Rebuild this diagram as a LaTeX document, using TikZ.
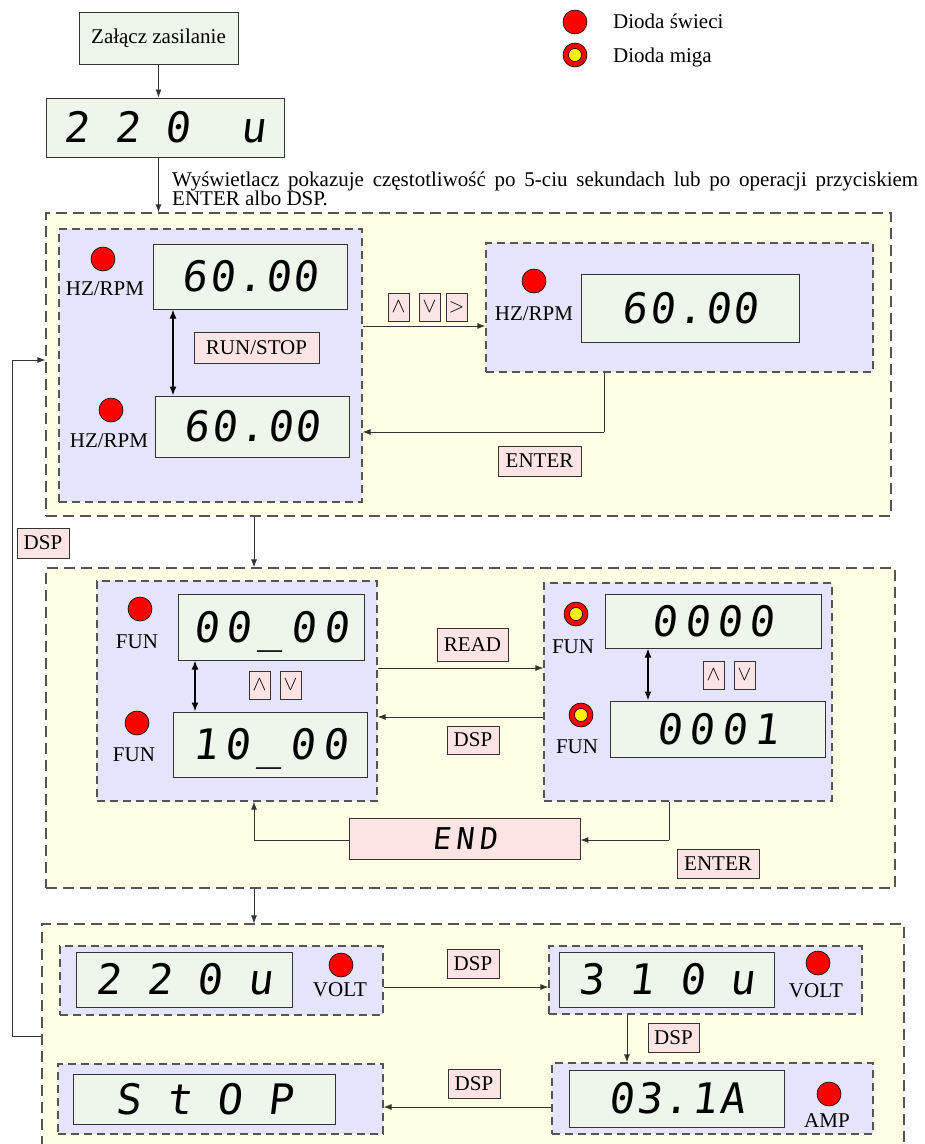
\documentclass[tikz,border=0pt]{standalone}
\usepackage{fontspec}
\setmainfont{Liberation Serif}
\newfontfamily\segfont[FakeSlant=0.12]{DejaVu Sans Mono}
\usetikzlibrary{arrows.meta}
\definecolor{outerfill}{HTML}{FFFFE6}
\definecolor{innerfill}{HTML}{E4E4FC}
\definecolor{dispfill}{HTML}{EEF6EC}
\definecolor{btnfill}{HTML}{FDE4E4}
\definecolor{dashedge}{HTML}{555555}
\definecolor{solidedge}{HTML}{333333}
\definecolor{linecol}{HTML}{333333}
\begin{document}
\begin{tikzpicture}[x=1pt,y=-1pt,
  outerbox/.style={draw=dashedge, fill=outerfill, line width=1.2pt, dash pattern=on 11pt off 6pt, inner sep=0},
  innerbox/.style={draw=dashedge, fill=innerfill, line width=1.2pt, dash pattern=on 8pt off 5pt, inner sep=0},
  disp/.style={draw=solidedge, fill=dispfill, line width=1pt, inner sep=0, font=\segfont\fontsize{42}{42}\selectfont, text height=30pt, text depth=0pt},
  dispwide/.style={disp, font=\segfont\addfontfeatures{LetterSpace=17}\fontsize{42}{42}\selectfont},
  dispmid/.style={disp, font=\segfont\addfontfeatures{LetterSpace=6}\fontsize{42}{42}\selectfont},
  titlebox/.style={draw=solidedge, fill=dispfill, line width=1pt, inner sep=0, font=\fontsize{21}{21}\selectfont},
  btn/.style={draw=solidedge, fill=btnfill, line width=0.8pt, inner sep=0, font=\fontsize{21}{21}\selectfont},
  lbl/.style={inner sep=0, font=\fontsize{21}{21}\selectfont},
  led/.style={circle, draw=black, fill=red, line width=0.6pt, minimum size=24pt, inner sep=0},
  ledblink/.style={led, path picture={\fill[yellow, draw=black, line width=0.6pt] (path picture bounding box.center) circle (6.5pt);}},
  conn/.style={draw=linecol, line width=0.9pt, -{Latex[length=8pt,width=6pt]}},
  plainline/.style={draw=linecol, line width=0.9pt},
  dbl/.style={draw=black, line width=1.6pt, {Latex[length=9pt,width=7pt]}-{Latex[length=9pt,width=7pt]}}
]
\useasboundingbox (0,0) rectangle (925,1144);
\clip (0,0) rectangle (925,1144);
\fill[white] (0,0) rectangle (925,1144);

% ---------- coordinates for connectors
\coordinate (x254) at (254,0);
\coordinate (yab) at (0,326);
\coordinate (yba) at (0,432);
\coordinate (xb) at (604,0);
\coordinate (x173) at (173,0);
\coordinate (x195) at (195,0);
\coordinate (x648) at (648,0);
\coordinate (x669) at (669,0);
\coordinate (x627) at (627,0);
\coordinate (ycd) at (0,668);
\coordinate (ydc) at (0,717);
\coordinate (yend) at (0,840);
\coordinate (yef) at (0,987);
\coordinate (yhg) at (0,1107);
\coordinate (fbA) at (12,1036);
\coordinate (fbB) at (12,360);

% ---------- top
\node[titlebox, minimum width=159, minimum height=52] (zal) at (158.5,38) {Załącz zasilanie};
\node[disp, minimum width=238, minimum height=59] (d0) at (165,127.5) {2 2 0\ \ u};

% legend
\node[led] (legA) at (575,22) {};
\node[lbl, anchor=west] (legAt) at (613,21) {Dioda świeci};
\node[ledblink] (legB) at (575,55) {};
\node[lbl, anchor=west] (legBt) at (613,57) {Dioda miga};

% info text
\node[lbl, anchor=base west] (info1) at (172,186.5) {\makebox[746pt][s]{Wyświetlacz pokazuje częstotliwość po 5-ciu sekundach lub po operacji przyciskiem}};
\node[lbl, anchor=base west] (info2) at (172,205.5) {ENTER albo DSP.};

% ---------- outer boxes
\node[outerbox, minimum width=845, minimum height=303] (o1) at (468.5,364.5) {};
\node[outerbox, minimum width=849, minimum height=320] (o2) at (470.5,728) {};
\node[outerbox, minimum width=862, minimum height=240] (o3) at (473,1044) {};

% ---------- block 1
\node[innerbox, minimum width=303, minimum height=273] (A) at (210.5,365.5) {};
\node[innerbox, minimum width=387, minimum height=129] (B) at (679.5,307.5) {};
\node[led] (ledA1) at (103,259) {};
\node[lbl] (labA1) at (105,289) {HZ/RPM};
\node[led] (ledA2) at (111,410) {};
\node[lbl] (labA2) at (109,441) {HZ/RPM};
\node[dispmid, minimum width=194, minimum height=65] (A1) at (250,276.5) {60.00};
\node[dispmid, minimum width=194, minimum height=61] (A2) at (252,426.5) {60.00};
\node[btn, minimum width=125, minimum height=31] (runstop) at (256.5,347.5) {RUN/STOP};
\node[led] (ledB) at (534,281) {};
\node[lbl] (labB) at (534,314) {HZ/RPM};
\node[dispmid, minimum width=218, minimum height=68] (B1) at (690,308) {60.00};
\node[btn, minimum width=21, minimum height=28] (up1) at (398.5,307) {$\wedge$};
\node[btn, minimum width=21, minimum height=28] (dn1) at (429.5,307) {$\vee$};
\node[btn, minimum width=21, minimum height=28] (rt1) at (456.5,307) {$>$};
\node[btn, minimum width=83, minimum height=30] (enter1) at (539.5,461) {ENTER};
\node[btn, minimum width=52, minimum height=30] (dspL) at (43,543) {DSP};

% ---------- block 2
\node[innerbox, minimum width=280, minimum height=220] (C) at (237,691) {};
\node[innerbox, minimum width=288, minimum height=218] (D) at (688,692) {};
\node[led] (ledC1) at (140,609) {};
\node[lbl] (labC1) at (137,642) {FUN};
\node[led] (ledC2) at (137,723) {};
\node[lbl] (labC2) at (134,755) {FUN};
\node[dispwide, minimum width=186, minimum height=66] (C1) at (271,627) {00\_00};
\node[dispwide, minimum width=194, minimum height=65] (C2) at (270,744.5) {10\_00};
\node[btn, minimum width=21, minimum height=28] (up2) at (259.5,685) {$\wedge$};
\node[btn, minimum width=21, minimum height=28] (dn2) at (290.5,685) {$\vee$};
\node[btn, minimum width=71, minimum height=33] (read) at (472.5,644.5) {READ};
\node[btn, minimum width=52, minimum height=28] (dsp2) at (473,740) {DSP};
\node[ledblink] (ledD1) at (576,614) {};
\node[lbl] (labD1) at (573,647) {FUN};
\node[ledblink] (ledD2) at (581,715) {};
\node[lbl] (labD2) at (577,747) {FUN};
\node[dispwide, minimum width=216, minimum height=54] (D1) at (713,621) {0000};
\node[dispwide, minimum width=215, minimum height=56] (D2) at (717.5,729) {0001};
\node[btn, minimum width=21, minimum height=28] (up3) at (713.5,675) {$\wedge$};
\node[btn, minimum width=21, minimum height=28] (dn3) at (744.5,675) {$\vee$};
\node[btn, minimum width=231, minimum height=41, font=\segfont\addfontfeatures{LetterSpace=18}\fontsize{30}{30}\selectfont] (END) at (464.5,838.5) {END};
\node[btn, minimum width=82, minimum height=29] (enter2) at (718,863.5) {ENTER};

% ---------- block 3
\node[innerbox, minimum width=323, minimum height=69] (E) at (221.5,980.5) {};
\node[disp, minimum width=216, minimum height=55] (E1) at (184,979.5) {2 2 0 u};
\node[led] (ledE) at (341,965) {};
\node[lbl] (labE) at (340,990) {VOLT};
\node[innerbox, minimum width=313, minimum height=68] (F) at (705.5,980) {};
\node[disp, minimum width=215, minimum height=55] (F1) at (666.5,979.5) {3 1 0 u};
\node[led] (ledF) at (818,963) {};
\node[lbl] (labF) at (816,991) {VOLT};
\node[btn, minimum width=52, minimum height=29] (dsp3) at (473,963.5) {DSP};
\node[btn, minimum width=51, minimum height=29] (dsp4) at (673.5,1037.5) {DSP};
\node[innerbox, minimum width=325, minimum height=70] (G) at (220.5,1099) {};
\node[disp, minimum width=262, minimum height=50] (G1) at (204,1099) {S t O P};
\node[innerbox, minimum width=321, minimum height=71] (H) at (712.5,1098.5) {};
\node[dispmid, minimum width=215, minimum height=57] (H1) at (676.5,1098.5) {03.1A};
\node[led] (ledH) at (829,1094) {};
\node[lbl] (labH) at (827,1121) {AMP};
\node[btn, minimum width=52, minimum height=29] (dsp5) at (474,1083.5) {DSP};

% ---------- connectors
\draw[conn] (zal.south) -- (d0.north -| zal.south);
\draw[conn] (d0.south -| zal.south) -- (o1.north -| zal.south);
\draw[conn] (A.east |- yab) -- (B.west |- yab);
\draw[plainline] (B.south -| xb) -- (xb |- yba);
\draw[conn] (xb |- yba) -- (A.east |- yba);
\draw[dbl] (A1.south -| x173) -- (A2.north -| x173);
\draw[plainline] (o3.west |- fbA) -- (fbA) -- (fbB);
\draw[conn] (fbB) -- (o1.west |- fbB);
\draw[conn] (o1.south -| x254) -- (o2.north -| x254);
\draw[conn] (C.east |- ycd) -- (D.west |- ycd);
\draw[conn] (D.west |- ydc) -- (C.east |- ydc);
\draw[dbl] (C1.south -| x195) -- (C2.north -| x195);
\draw[dbl] (D1.south -| x648) -- (D2.north -| x648);
\draw[plainline] (D.south -| x669) -- (x669 |- yend);
\draw[conn] (x669 |- yend) -- (END.east |- yend);
\draw[plainline] (END.west |- yend) -- (x254 |- yend);
\draw[conn] (x254 |- yend) -- (C.south -| x254);
\draw[conn] (o2.south -| x254) -- (o3.north -| x254);
\draw[conn] (E.east |- yef) -- (F.west |- yef);
\draw[conn] (F.south -| x627) -- (H.north -| x627);
\draw[conn] (H.west |- yhg) -- (G.east |- yhg);
\end{tikzpicture}
\end{document}
